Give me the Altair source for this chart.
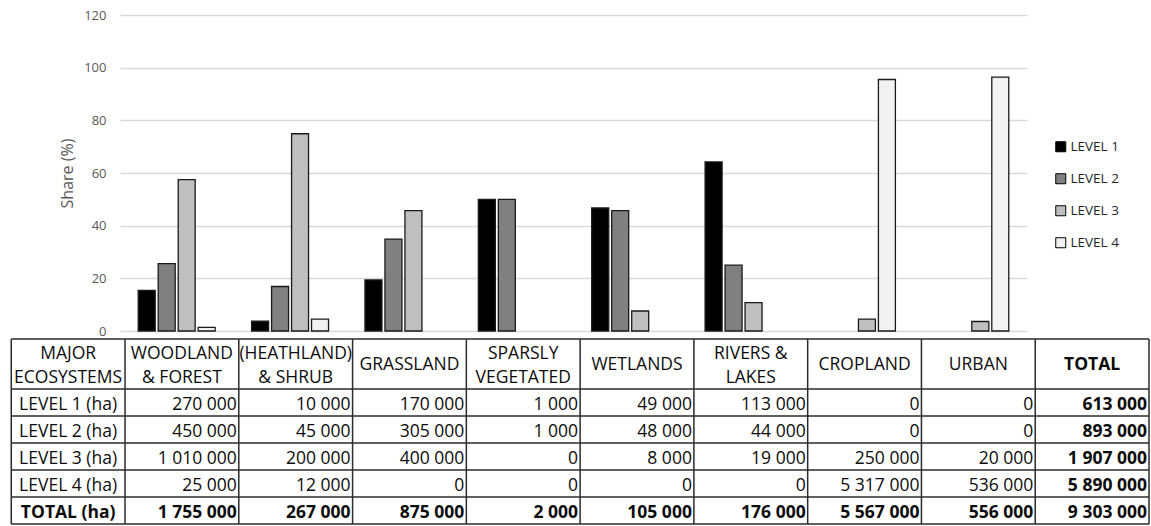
import altair as alt
import pandas as pd

# ---------------- data ----------------
categories = ["WOODLAND & FOREST", "(HEATHLAND) & SHRUB", "GRASSLAND", "SPARSLY VEGETATED",
              "WETLANDS", "RIVERS & LAKES", "CROPLAND", "URBAN"]
header_lines = [["WOODLAND", "& FOREST"], ["(HEATHLAND)", "& SHRUB"], ["GRASSLAND"],
                ["SPARSLY", "VEGETATED"], ["WETLANDS"], ["RIVERS &", "LAKES"],
                ["CROPLAND"], ["URBAN"]]
first_header = ["MAJOR", "ECOSYSTEMS"]
total_header = "TOTAL"

levels = ["LEVEL 1", "LEVEL 2", "LEVEL 3", "LEVEL 4"]
level_colors = ["#000000", "#808080", "#bfbfbf", "#f2f2f2"]

# share (%) of each level within each ecosystem (bars)
share_level1 = [15.4, 3.7, 19.4, 50.0, 46.7, 64.2, 0, 0]
share_level2 = [25.6, 16.9, 34.9, 50.0, 45.7, 25.0, 0, 0]
share_level3 = [57.5, 74.9, 45.7, 0, 7.6, 10.8, 4.5, 3.6]
share_level4 = [1.4, 4.5, 0, 0, 0, 0, 95.5, 96.4]

# data table (ha), last value = TOTAL column
row_labels = ["LEVEL 1 (ha)", "LEVEL 2 (ha)", "LEVEL 3 (ha)", "LEVEL 4 (ha)", "TOTAL (ha)"]
ha_level1 = [270000, 10000, 170000, 1000, 49000, 113000, 0, 0, 613000]
ha_level2 = [450000, 45000, 305000, 1000, 48000, 44000, 0, 0, 893000]
ha_level3 = [1010000, 200000, 400000, 0, 8000, 19000, 250000, 20000, 1907000]
ha_level4 = [25000, 12000, 0, 0, 0, 0, 5317000, 536000, 5890000]
ha_total = [1755000, 267000, 875000, 2000, 105000, 176000, 5567000, 556000, 9303000]

y_ticks = [0, 20, 40, 60, 80, 100, 120]

# ---------------- layout ----------------
PLOT_W, PLOT_H = 907, 316
N_COLS = 10
TABLE_X0, TABLE_X1 = -108.75, 1029.0      # table extent relative to plot origin
TABLE_TOP = 324                           # table top relative to plot origin
HEADER_H, ROW_H = 50, 27
TABLE_H = HEADER_H + ROW_H * len(row_labels)
FONT = "Open Sans"
TXT = "#0d0d0d"

# ---------------- bars ----------------
bar_rows = []
for lvl, vals in zip(levels, [share_level1, share_level2, share_level3, share_level4]):
    for cat, v in zip(categories, vals):
        if v > 0:
            bar_rows.append({"ecosystem": cat, "level": lvl, "share": v})
bars_df = pd.DataFrame(bar_rows)

bars = alt.Chart(bars_df).mark_bar(stroke="#1a1a1a", strokeWidth=1.3).encode(
    x=alt.X("ecosystem:N", sort=categories, axis=None,
            scale=alt.Scale(domain=categories, paddingInner=0.295, paddingOuter=0.1475)),
    xOffset=alt.XOffset("level:N", sort=levels,
                        scale=alt.Scale(domain=levels, paddingInner=0.15, paddingOuter=0.075)),
    y=alt.Y("share:Q", scale=alt.Scale(domain=[0, 120]),
            axis=alt.Axis(values=y_ticks, title="Share (%)", grid=True, gridColor="#d9d9d9",
                          gridWidth=1.3, domain=False, ticks=False, labelPadding=14,
                          labelFont=FONT, labelFontSize=13, labelColor="#595959",
                          titleFont=FONT, titleFontSize=16, titleFontWeight="normal",
                          titleColor="#595959", titlePadding=8)),
    color=alt.Color("level:N", sort=levels,
                    scale=alt.Scale(domain=levels, range=level_colors),
                    legend=alt.Legend(title=None, orient="none", legendX=934, legendY=125,
                                      symbolType="square", symbolSize=100,
                                      symbolStrokeColor="#000000", symbolStrokeWidth=1,
                                      labelFont=FONT, labelFontSize=13.5, labelColor="#262626",
                                      labelOffset=3, rowPadding=17)),
)

# ---------------- table ----------------
tx_scale = alt.Scale(domain=[0, N_COLS], range=[TABLE_X0, TABLE_X1])
ty_scale = alt.Scale(domain=[0, TABLE_H], range=[TABLE_TOP, TABLE_TOP + TABLE_H])

h_bounds = [0, HEADER_H] + [HEADER_H + ROW_H * (r + 1) for r in range(len(row_labels))]
hlines = pd.DataFrame({"ty": h_bounds, "tx": [0] * len(h_bounds), "tx2": [N_COLS] * len(h_bounds)})
vlines = pd.DataFrame({"tx": list(range(N_COLS + 1)), "ty": [0] * (N_COLS + 1),
                       "ty2": [TABLE_H] * (N_COLS + 1)})

hrules = alt.Chart(hlines).mark_rule(color="#2b2b2b", strokeWidth=1.5).encode(
    x=alt.X("tx:Q", scale=tx_scale, axis=None), x2="tx2:Q",
    y=alt.Y("ty:Q", scale=ty_scale, axis=None))
vrules = alt.Chart(vlines).mark_rule(color="#2b2b2b", strokeWidth=1.5).encode(
    x=alt.X("tx:Q", scale=tx_scale, axis=None),
    y=alt.Y("ty:Q", scale=ty_scale, axis=None), y2="ty2:Q")

cells = []


def header_cell(col, lines, kind):
    if len(lines) == 1:
        ys = [HEADER_H / 2 + 1]
    else:
        ys = [HEADER_H / 2 - 10, HEADER_H / 2 + 14]
    for line, yy in zip(lines, ys):
        cells.append({"tx": col + 0.5, "ty": yy, "label": line, "kind": kind})


header_cell(0, first_header, "c")
for i, lines in enumerate(header_lines):
    header_cell(i + 1, lines, "c")
header_cell(N_COLS - 1, [total_header], "cb")


def fmt(v):
    return f"{v:,}".replace(",", " ")


for r, (lab, vals) in enumerate(zip(row_labels, [ha_level1, ha_level2, ha_level3, ha_level4, ha_total])):
    yy = HEADER_H + ROW_H * r + ROW_H / 2 + 2.5
    last = r == len(row_labels) - 1
    cells.append({"tx": 0.5, "ty": yy, "label": lab, "kind": "cb" if last else "c"})
    for j, v in enumerate(vals):
        bold = last or j == len(vals) - 1
        cells.append({"tx": j + 2, "ty": yy, "label": fmt(v), "kind": "rb" if bold else "r"})

cells_df = pd.DataFrame(cells)


def text_layer(kind, align, weight, dx):
    return alt.Chart(cells_df).transform_filter(alt.datum.kind == kind).mark_text(
        align=align, baseline="middle", font=FONT, fontSize=17.5, fontWeight=weight,
        color=TXT, dx=dx).encode(
        x=alt.X("tx:Q", scale=tx_scale, axis=None),
        y=alt.Y("ty:Q", scale=ty_scale, axis=None),
        text="label:N")


table = alt.layer(
    hrules, vrules,
    text_layer("c", "center", "normal", 0),
    text_layer("cb", "center", "bold", 0),
    text_layer("r", "right", "normal", -2),
    text_layer("rb", "right", "bold", -2),
)

chart = alt.layer(bars, table).resolve_scale(
    x="independent", y="independent"
).properties(
    width=PLOT_W, height=PLOT_H,
    padding={"left": 10, "top": 9, "right": 0, "bottom": 0},
    background="white",
).configure_view(stroke=None)

chart.save("out.html", embed_options={"renderer": "svg", "actions": False})
